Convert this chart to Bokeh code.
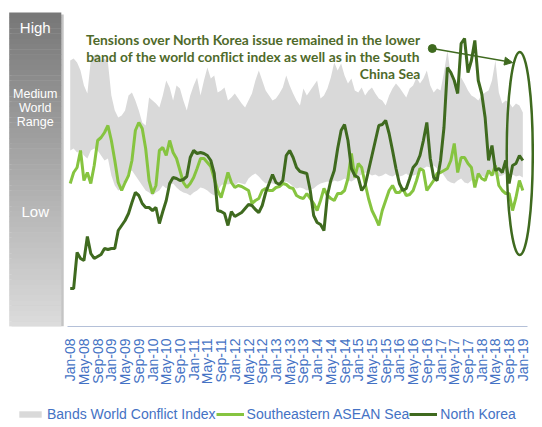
import math
from bokeh.plotting import figure
from bokeh.layouts import column
from bokeh.models import (Range1d, LinearAxis, FixedTicker, Legend, LegendItem,
                          Arrow, NormalHead)
from bokeh.core.properties import value
from bokeh.embed import file_html
from bokeh.resources import INLINE

# ---------------- data ----------------
tick_labels = ["Jan-08", "May-08", "Sep-08", "Jan-09", "May-09", "Sep-09",
               "Jan-10", "May-10", "Sep-10", "Jan-11", "May-11", "Sep-11",
               "Jan-12", "May-12", "Sep-12", "Jan-13", "May-13", "Sep-13",
               "Jan-14", "May-14", "Sep-14", "Jan-15", "May-15", "Sep-15",
               "Jan-16", "May-16", "Sep-16", "Jan-17", "May-17", "Sep-17",
               "Jan-18", "May-18", "Sep-18", "Jan-19"]

band_upper = [266, 268, 264, 256, 241, 233, 266, 271, 273, 266,
              268, 264, 231, 216, 209, 211, 216, 231, 234, 226,
              216, 204, 201, 229, 226, 223, 219, 231, 246, 239,
              226, 241, 238, 226, 216, 231, 241, 249, 231, 246,
              259, 248, 251, 234, 236, 239, 226, 229, 233, 228,
              223, 219, 226, 233, 246, 256, 246, 236, 231, 226,
              228, 233, 239, 251, 241, 233, 226, 221, 238, 231,
              236, 241, 246, 228, 231, 238, 249, 264, 256, 263,
              251, 243, 248, 236, 234, 239, 231, 236, 239, 233,
              228, 226, 221, 231, 238, 243, 239, 234, 229, 238,
              241, 249, 243, 248, 256, 241, 234, 238, 236, 254,
              276, 251, 244, 238, 249, 243, 236, 231, 229, 226,
              231, 234, 236, 246, 266, 234, 223, 226, 224, 219,
              223, 221, 214]

band_lower = [176, 178, 174, 176, 171, 168, 176, 178, 176, 171,
              166, 168, 151, 141, 136, 138, 148, 154, 156, 151,
              146, 141, 136, 134, 131, 134, 136, 141, 138, 141,
              143, 139, 136, 134, 133, 131, 134, 136, 139, 138,
              136, 133, 131, 136, 141, 143, 142, 143, 141, 144,
              143, 142, 148, 151, 153, 150, 146, 143, 144, 143,
              142, 144, 143, 145, 143, 140, 138, 139, 138, 136,
              137, 138, 141, 143, 144, 145, 143, 146, 145, 146,
              148, 146, 145, 147, 150, 152, 154, 153, 151, 152,
              150, 151, 153, 151, 150, 152, 150, 151, 153, 150,
              151, 152, 156, 158, 160, 159, 161, 158, 156, 151,
              146, 144, 143, 146, 148, 144, 143, 146, 148, 149,
              151, 149, 154, 151, 152, 150, 151, 153, 151, 152,
              150, 151, 149]

asean_sea = [143, 154, 159, 176, 146, 154, 143, 161, 186, 189,
             194, 201, 186, 166, 144, 136, 144, 151, 166, 196,
             204, 198, 178, 146, 133, 141, 176, 179, 171, 186,
             174, 168, 156, 144, 139, 143, 149, 158, 168, 168,
             164, 160, 148, 136, 129, 141, 154, 144, 139, 141,
             140, 138, 136, 123, 126, 128, 136, 138, 136, 136,
             139, 140, 143, 142, 139, 138, 131, 129, 128, 133,
             128, 123, 116, 126, 138, 131, 128, 126, 133, 133,
             136, 148, 173, 149, 163, 159, 143, 128, 116, 109,
             101, 116, 126, 136, 141, 134, 134, 138, 131, 132,
             136, 146, 158, 156, 136, 141, 146, 153, 154, 156,
             158, 166, 183, 154, 169, 169, 163, 159, 139, 153,
             148, 146, 156, 151, 161, 141, 136, 133, 133, 116,
             129, 146, 136]

north_korea = [38, 38, 74, 68, 66, 90, 73, 68, 70, 72,
               78, 77, 78, 78, 96, 101, 106, 113, 124, 134,
               131, 123, 119, 119, 116, 119, 103, 115, 126, 143,
               149, 148, 146, 147, 150, 169, 176, 173, 174, 173,
               171, 166, 153, 116, 115, 113, 101, 115, 110, 112,
               114, 118, 122, 121, 117, 114, 121, 134, 143, 152,
               144, 142, 146, 171, 176, 169, 159, 155, 154, 153,
               136, 111, 104, 102, 96, 131, 146, 156, 178, 196,
               202, 186, 158, 151, 149, 136, 141, 156, 171, 186,
               201, 202, 206, 193, 176, 158, 143, 136, 138, 148,
               159, 163, 171, 186, 204, 168, 149, 146, 166, 199,
               259, 254, 246, 233, 283, 288, 254, 266, 286, 246,
               233, 209, 166, 181, 156, 158, 154, 166, 143, 161,
               163, 171, 166]

months = list(range(len(north_korea)))
tick_pos = [4 * i for i in range(len(tick_labels))]

# ---------------- styles ----------------
GRAY = "#d9d9d9"
LIGHT = "#86c440"
DARK = "#3f6a1f"
BLUE = "#4472C4"

p = figure(frame_width=526, frame_height=318,
           x_range=Range1d(-18.0, 135.4), y_range=Range1d(0, 318),
           output_backend="svg", toolbar_location=None,
           x_axis_location=None, y_axis_location=None,
           min_border_left=8, min_border_right=0, min_border_top=8,
           min_border_bottom=0)
p.outline_line_color = None
p.xgrid.visible = False
p.ygrid.visible = False
p.background_fill_color = "white"
p.border_fill_color = "white"

# gradient side bar
bx0, bx1 = -17.8, -2.6
p.quad(left=[bx0 + 0.7], right=[bx1 + 0.7], bottom=[0], top=[312],
       fill_color="#c4c4c4", line_color=None)
n = 60
ytop, ybot = 314, 0
for i in range(n):
    t0 = ytop - (ytop - ybot) * i / n
    t1 = ytop - (ytop - ybot) * (i + 1) / n
    f = i / (n - 1)
    g = int(0x78 + (0xdc - 0x78) * f)
    p.quad(left=[bx0], right=[bx1], top=[t0], bottom=[t1 - 0.3],
           fill_color="#%02x%02x%02x" % (g, g, g), line_color=None)

bx_mid = (bx0 + bx1) / 2
p.text(x=[bx_mid, bx_mid], y=[299, 115], text=["High", "Low"],
       text_align="center", text_baseline="middle", text_color="white",
       text_font=value("Liberation Sans"), text_font_size="15px")
p.text(x=[bx_mid] * 3, y=[233, 219, 205], text=["Medium", "World", "Range"],
       text_align="center", text_baseline="middle", text_color="white",
       text_font=value("Liberation Sans"), text_font_size="12.5px")

# series
band = p.varea(x=months, y1=band_lower, y2=band_upper, fill_color=GRAY)
l1 = p.line(months, asean_sea, line_color=LIGHT, line_width=3)
l2 = p.line(months, north_korea, line_color=DARK, line_width=3)

# annotation
p.text(x=[102.1] * 3, y=[287, 270, 253],
       text=["Tensions over North Korea issue remained in the lower",
             "band of the world conflict index as well as in the South",
             "China Sea"],
       text_align="right", text_baseline="middle", text_color="#4f6a2a",
       text_font=value("Lato"), text_font_style="bold",
       text_font_size="13.8px")
p.scatter(x=[105.6], y=[278], size=8, color=DARK)
p.add_layout(Arrow(end=NormalHead(size=8, line_color=DARK, fill_color=DARK),
                   x_start=105.6, y_start=278, x_end=129.0, y_end=264,
                   line_color=DARK, line_width=1.5))
p.ellipse(x=[131.1], y=[173], width=[7.6], height=[203],
          fill_color=None, line_color=DARK, line_width=2.5)

# x axis
xaxis = LinearAxis(ticker=FixedTicker(ticks=tick_pos),
                   major_label_overrides={tp: lab for tp, lab in zip(tick_pos, tick_labels)},
                   bounds=(-0.9, 133.5))
xaxis.major_label_orientation = math.pi / 2
xaxis.major_label_text_font = "Liberation Sans"
xaxis.major_label_text_font_size = "14px"
xaxis.major_label_text_color = BLUE
xaxis.major_label_standoff = 12
xaxis.major_tick_out = 0
xaxis.major_tick_in = 0
xaxis.minor_tick_out = 0
xaxis.minor_tick_in = 0
xaxis.axis_line_color = "#b4c0d8"
xaxis.axis_line_width = 1
p.add_layout(xaxis, "below")

# legend strip (separate small figure; its renderers sit outside its ranges)
pl = figure(width=534, height=36, x_range=Range1d(0, 1), y_range=Range1d(0, 1),
            output_backend="svg", toolbar_location=None,
            x_axis_location=None, y_axis_location=None,
            min_border_left=0, min_border_right=0, min_border_top=0,
            min_border_bottom=0)
pl.outline_line_color = None
pl.xgrid.visible = False
pl.ygrid.visible = False
lg_band = pl.varea(x=[5, 6], y1=[5, 5], y2=[6, 6], fill_color=GRAY)
lg_l1 = pl.line(x=[5, 6], y=[5, 5], line_color=LIGHT, line_width=3)
lg_l2 = pl.line(x=[5, 6], y=[5, 5], line_color=DARK, line_width=3)

legend = Legend(items=[LegendItem(label="Bands World Conflict Index", renderers=[lg_band]),
                       LegendItem(label="Southeastern ASEAN Sea", renderers=[lg_l1]),
                       LegendItem(label="North Korea", renderers=[lg_l2])],
                orientation="horizontal", location=(8, 2))
legend.label_text_font = "Liberation Sans"
legend.label_text_font_size = "14px"
legend.label_text_color = BLUE
legend.glyph_width = 28
legend.glyph_height = 8
legend.label_standoff = 3
legend.spacing = 0
legend.padding = 0
legend.margin = 0
legend.border_line_color = None
legend.background_fill_alpha = 0
pl.add_layout(legend, "center")

layout = column(p, pl, spacing=0)
open("out.html", "w").write(file_html(layout, INLINE))
